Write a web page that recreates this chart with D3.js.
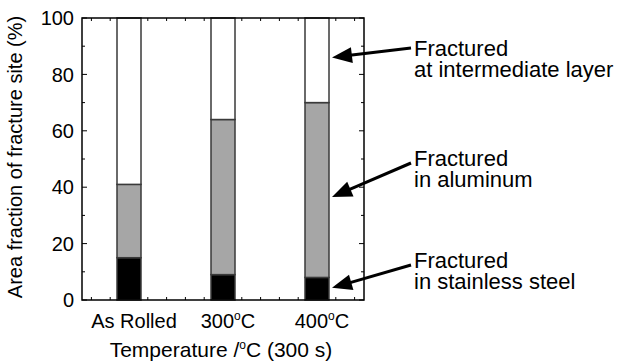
<!DOCTYPE html>
<html>
<head>
<meta charset="utf-8">
<script src="https://cdn.jsdelivr.net/npm/d3@7"></script>
<style>
  html, body { margin: 0; padding: 0; background: #fff; }
  text { font-family: "Liberation Sans", Arial, sans-serif; fill: #000; }
</style>
</head>
<body>
<div id="chart"></div>
<script>
// ----- data -----
const categories = ["As Rolled", "300°C", "400°C"];
const steel = [15, 9, 8];            // fractured in stainless steel
const aluminum = [26, 55, 62];       // fractured in aluminum
const intermediate = [59, 36, 30];   // fractured at intermediate layer
const yTicks = [0, 20, 40, 60, 80, 100];

// annotation text, and the value the arrow points at
const notes = [
  { lines: ["Fractured", "at intermediate layer"], at: 86 },
  { lines: ["Fractured", "in aluminum"], at: 36.5 },
  { lines: ["Fractured", "in stainless steel"], at: 4.3 }
];

const width = 619, height = 364;
const margins = { top: 18, right: 255, bottom: 64, left: 82 };

const svg = d3.select("#chart").append("svg")
  .attr("width", width)
  .attr("height", height)
  .attr("viewBox", [0, 0, width, height]);

svg.append("rect").attr("width", width).attr("height", height).attr("fill", "#fff");

const x = d3.scaleBand()
  .domain(categories)
  .range([margins.left, width - margins.right])
  .padding(0);

const y = d3.scaleLinear()
  .domain([0, 100])
  .range([height - margins.bottom, margins.top]);

const x0 = margins.left, x1 = width - margins.right;
const y0 = y(0), y1 = y(100);

// ----- ticks (inward, on all four sides) -----
const ticks = svg.append("g").attr("stroke", "#000").attr("stroke-width", 1);
d3.range(0, 101, 10).forEach(v => {
  const len = v % 20 === 0 ? 5 : 3;
  ticks.append("line").attr("x1", x0).attr("x2", x0 + len).attr("y1", y(v)).attr("y2", y(v));
  ticks.append("line").attr("x1", x1).attr("x2", x1 - len).attr("y1", y(v)).attr("y2", y(v));
});
const step = x.bandwidth() / 5;
categories.forEach(c => {
  const cx = x(c) + x.bandwidth() / 2;
  for (let k = -2; k <= 2; k++) {
    const tx = cx + k * step;
    ticks.append("line").attr("x1", tx).attr("x2", tx).attr("y1", y0).attr("y2", y0 - 3);
    ticks.append("line").attr("x1", tx).attr("x2", tx).attr("y1", y1).attr("y2", y1 + 3);
  }
});

// ----- stacked bars -----
const table = categories.map((c, i) => ({
  cat: c, steel: steel[i], aluminum: aluminum[i], intermediate: intermediate[i]
}));
const keys = ["steel", "aluminum", "intermediate"];
const fills = { steel: "#000000", aluminum: "#a6a6a6", intermediate: "#ffffff" };
const series = d3.stack().keys(keys)(table);
const barW = 24;

svg.append("g")
  .selectAll("g")
  .data(series)
  .join("g")
    .attr("fill", d => fills[d.key])
  .selectAll("rect")
  .data(d => d)
  .join("rect")
    .attr("x", d => x(d.data.cat) + x.bandwidth() / 2 - barW / 2)
    .attr("y", d => y(d[1]))
    .attr("width", barW)
    .attr("height", d => y(d[0]) - y(d[1]))
    .attr("stroke", "#3a3a3a")
    .attr("stroke-width", 1.5);

// frame
svg.append("rect")
  .attr("x", x0).attr("y", y1)
  .attr("width", x1 - x0).attr("height", y0 - y1)
  .attr("fill", "none")
  .attr("stroke", "#000")
  .attr("stroke-width", 1.5);

// ----- y tick labels -----
svg.append("g")
  .selectAll("text")
  .data(yTicks)
  .join("text")
    .attr("x", x0 - 8)
    .attr("y", d => y(d))
    .attr("dy", "0.36em")
    .attr("text-anchor", "end")
    .style("font-size", "20px")
    .text(d => d);

// degree sign drawn as a small raised "o"
function degreeText(sel, str) {
  const parts = str.split("°");
  sel.append("tspan").text(parts[0]);
  if (parts.length > 1) {
    sel.append("tspan").attr("dy", -8).style("font-size", "12px").text("o");
    sel.append("tspan").attr("dy", 8).text(parts[1]);
  }
}

// ----- x tick labels -----
categories.forEach(c => {
  const t = svg.append("text")
    .attr("x", x(c) + x.bandwidth() / 2 + 5)
    .attr("y", y0 + 28)
    .attr("text-anchor", "middle")
    .style("font-size", "20px");
  degreeText(t, c);
});

// ----- axis titles -----
const xt = svg.append("text")
  .attr("x", 221)
  .attr("y", 357)
  .attr("text-anchor", "middle")
  .style("font-size", "21px");
degreeText(xt, "Temperature /°C (300 s)");

svg.append("text")
  .attr("transform", `translate(22,${(y0 + y1) / 2 - 2}) rotate(-90)`)
  .attr("text-anchor", "middle")
  .style("font-size", "20px")
  .text("Area fraction of fracture site (%)");

// ----- annotations with arrows -----
const labelX = 414;
const labelY = [56, 166, 268];
const tailY = [48, 163, 265];
const tipX = x(categories[2]) + x.bandwidth() / 2 + barW / 2 + 3;
const headLen = 20, headHalf = 8;

notes.forEach((n, i) => {
  const tx = labelX - 3, ty = tailY[i];
  const hx = tipX, hy = y(n.at);
  const dx = hx - tx, dy = hy - ty;
  const len = Math.hypot(dx, dy);
  const ux = dx / len, uy = dy / len;
  const bx = hx - ux * headLen, by = hy - uy * headLen;

  svg.append("line")
    .attr("x1", tx).attr("y1", ty)
    .attr("x2", bx + ux * 2).attr("y2", by + uy * 2)
    .attr("stroke", "#000")
    .attr("stroke-width", 3);

  svg.append("path")
    .attr("d", `M${hx},${hy} L${bx - uy * headHalf},${by + ux * headHalf} L${bx + uy * headHalf},${by - ux * headHalf} Z`)
    .attr("fill", "#000");

  // one text element per line
  n.lines.forEach((line, j) => {
    svg.append("text")
      .attr("x", labelX)
      .attr("y", labelY[i] + j * 21)
      .style("font-size", "22px")
      .text(line);
  });
});
</script>
</body>
</html>
